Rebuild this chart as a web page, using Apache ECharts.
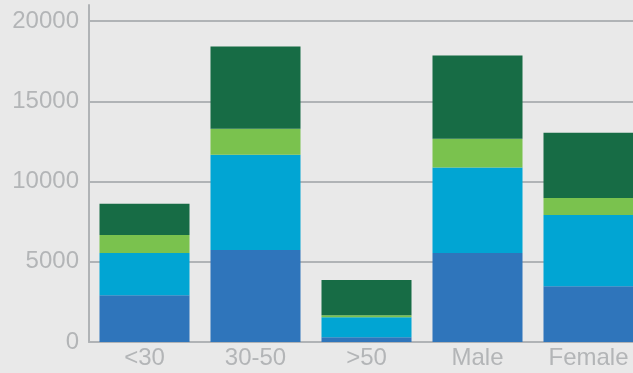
<!DOCTYPE html>
<html>
<head>
<meta charset="utf-8">
<script src="https://cdn.jsdelivr.net/npm/echarts@6/dist/echarts.min.js"></script>
<style>
  html, body { margin: 0; padding: 0; background: #e9e9e9; }
  #chart { width: 633px; height: 373px; }
</style>
</head>
<body>
<div id="chart"></div>
<script>
// categories and stacked segment values
var categories = ['<30', '30-50', '>50', 'Male', 'Female'];
var seriesA = [2920, 5730, 290, 5540, 3480];   // blue (bottom)
var seriesB = [2620, 5940, 1250, 5330, 4440];  // cyan
var seriesC = [1130, 1620, 130, 1790, 1060];   // light green
var seriesD = [1940, 5130, 2190, 5190, 4060];  // dark green (top)
var yTicks = [0, 5000, 10000, 15000, 20000];

var colors = ['#2f75bb', '#01a5d3', '#7ac24e', '#176c45'];
var labelColor = '#b3b5b7';
var lineColor = '#b0b3b6';

var chart = echarts.init(document.getElementById('chart'));

function makeSeries(name, data) {
    return {
        name: name,
        type: 'bar',
        stack: 'total',
        barWidth: 90,
        data: data
    };
}

chart.setOption({
    backgroundColor: '#e9e9e9',
    color: colors,
    animation: false,
    grid: {
        left: 89,
        width: 555,   // last bar runs off the right edge, as in the source
        top: 5,
        bottom: 31,
        containLabel: false,
        outerBoundsMode: 'none'
    },
    xAxis: {
        type: 'category',
        data: categories,
        axisTick: { show: false },
        axisLine: { lineStyle: { color: lineColor, width: 2 } },
        axisLabel: {
            color: labelColor,
            fontSize: 24,
            fontFamily: 'Liberation Sans',
            margin: 4
        }
    },
    yAxis: {
        type: 'value',
        min: 0,
        max: 21000,
        interval: yTicks[1] - yTicks[0],
        axisLine: { show: true, lineStyle: { color: lineColor, width: 2 } },
        axisTick: { show: false },
        axisLabel: {
            color: labelColor,
            fontSize: 24,
            fontFamily: 'Liberation Sans',
            margin: 10,
            showMaxLabel: false,
            formatter: function (v) {
                return yTicks.indexOf(v) >= 0 ? String(v) : '';
            }
        },
        splitLine: {
            show: true,
            showMaxLine: false,
            lineStyle: { color: lineColor, width: 2 }
        }
    },
    series: [
        makeSeries('A', seriesA),
        makeSeries('B', seriesB),
        makeSeries('C', seriesC),
        makeSeries('D', seriesD)
    ]
});
</script>
</body>
</html>
